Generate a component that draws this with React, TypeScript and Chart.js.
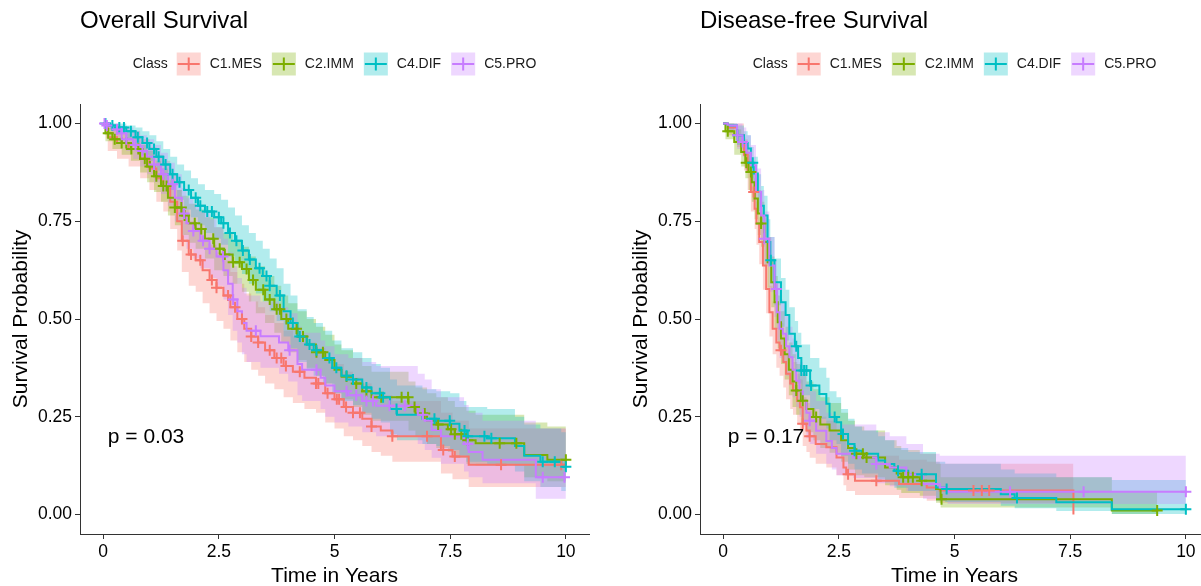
import React, { useEffect, useRef } from "react";
import { Chart, registerables } from "chart.js";

Chart.register(...registerables);

const FONT = '"Liberation Sans", Arial, Helvetica, sans-serif';

// ---------- shared labels ----------
const classNames = ["C1.MES", "C2.IMM", "C4.DIF", "C5.PRO"];
const classColors = ["#F8766D", "#7CAE00", "#00BFC4", "#C77CFF"];
const bandColors = [
  "rgba(248,118,109,0.3)",
  "rgba(124,174,0,0.3)",
  "rgba(0,191,196,0.3)",
  "rgba(199,124,255,0.3)",
];
const xTicks = [0, 2.5, 5, 7.5, 10];
const xTickLabels = ["0", "2.5", "5", "7.5", "10"];
const yTicks = [0, 0.25, 0.5, 0.75, 1];
const yTickLabels = ["0.00", "0.25", "0.50", "0.75", "1.00"];

// ---------- Overall Survival ----------
const osMesTime = [0, 0.1, 0.3, 0.55, 0.8, 1.0, 1.15, 1.3, 1.45, 1.6, 1.7, 1.85, 2.0, 2.15, 2.3, 2.45, 2.6, 2.75, 2.9, 3.05, 3.2, 3.35, 3.5, 3.7, 3.9, 4.1, 4.35, 4.6, 4.8, 5.0, 5.2, 5.4, 5.6, 5.8, 6.0, 6.25, 7.3, 7.55, 7.9];
const osMesSurv = [1, 0.965, 0.95, 0.935, 0.91, 0.885, 0.86, 0.84, 0.8, 0.75, 0.7, 0.665, 0.65, 0.625, 0.6, 0.58, 0.56, 0.53, 0.5, 0.475, 0.455, 0.44, 0.42, 0.4, 0.38, 0.365, 0.35, 0.335, 0.31, 0.295, 0.275, 0.26, 0.245, 0.225, 0.215, 0.2, 0.165, 0.148, 0.127];
const osMesLower = [1, 0.93, 0.91, 0.89, 0.86, 0.83, 0.8, 0.775, 0.73, 0.675, 0.62, 0.585, 0.57, 0.54, 0.515, 0.495, 0.475, 0.445, 0.415, 0.39, 0.37, 0.355, 0.335, 0.32, 0.3, 0.285, 0.27, 0.26, 0.235, 0.22, 0.2, 0.19, 0.175, 0.16, 0.15, 0.135, 0.105, 0.09, 0.07];
const osMesUpper = [1, 0.995, 0.99, 0.98, 0.96, 0.94, 0.92, 0.905, 0.87, 0.83, 0.78, 0.75, 0.735, 0.71, 0.69, 0.67, 0.65, 0.62, 0.59, 0.565, 0.545, 0.53, 0.51, 0.49, 0.47, 0.455, 0.44, 0.425, 0.4, 0.385, 0.365, 0.35, 0.335, 0.315, 0.305, 0.29, 0.26, 0.24, 0.22];
const osMesCensor = [1.72, 1.9, 2.1, 2.35, 2.45, 2.7, 2.85, 3.0, 3.2, 3.35, 3.6, 3.75, 3.85, 3.95, 4.25, 4.6, 4.65, 4.85, 5.05, 5.1, 5.25, 5.4, 5.55, 5.8, 6.25, 7.0, 7.35, 7.6, 8.6, 9.9];
const osMesEnd = 10;

const osImmTime = [0, 0.05, 0.2, 0.4, 0.6, 0.8, 0.95, 1.1, 1.25, 1.4, 1.55, 1.7, 1.85, 2.0, 2.2, 2.4, 2.6, 2.8, 3.0, 3.15, 3.3, 3.5, 3.7, 3.85, 4.0, 4.2, 4.4, 4.6, 4.8, 5.0, 5.15, 5.4, 5.6, 5.8, 6.6, 6.75, 7.0, 7.2, 7.45, 7.6, 7.85, 8.05, 9.1, 9.6];
const osImmSurv = [1, 0.975, 0.96, 0.95, 0.935, 0.91, 0.89, 0.865, 0.84, 0.81, 0.785, 0.765, 0.745, 0.73, 0.705, 0.68, 0.665, 0.645, 0.628, 0.6, 0.575, 0.55, 0.525, 0.5, 0.475, 0.455, 0.435, 0.415, 0.395, 0.37, 0.353, 0.335, 0.315, 0.3, 0.275, 0.258, 0.24, 0.23, 0.218, 0.205, 0.19, 0.182, 0.152, 0.14];
const osImmLower = [1, 0.955, 0.935, 0.92, 0.905, 0.875, 0.85, 0.825, 0.8, 0.765, 0.74, 0.715, 0.695, 0.68, 0.655, 0.625, 0.61, 0.59, 0.57, 0.545, 0.515, 0.49, 0.465, 0.44, 0.415, 0.395, 0.375, 0.355, 0.335, 0.31, 0.295, 0.275, 0.255, 0.24, 0.215, 0.2, 0.18, 0.17, 0.16, 0.145, 0.13, 0.125, 0.095, 0.085];
const osImmUpper = [1, 0.99, 0.985, 0.975, 0.965, 0.945, 0.93, 0.905, 0.885, 0.855, 0.83, 0.815, 0.795, 0.78, 0.76, 0.735, 0.72, 0.7, 0.685, 0.66, 0.635, 0.61, 0.585, 0.56, 0.54, 0.52, 0.5, 0.48, 0.46, 0.435, 0.42, 0.4, 0.38, 0.365, 0.34, 0.325, 0.31, 0.3, 0.29, 0.275, 0.265, 0.255, 0.235, 0.225];
const osImmCensor = [0.11, 0.25, 0.4, 0.5, 0.61, 0.76, 0.9, 1.01, 1.15, 1.3, 1.37, 1.55, 1.69, 1.76, 1.98, 2.12, 2.38, 2.52, 2.63, 2.81, 2.95, 3.1, 3.24, 3.46, 3.6, 3.75, 3.82, 3.96, 4.18, 4.32, 4.61, 4.75, 5.26, 5.47, 5.69, 6.01, 6.45, 6.59, 6.73, 6.95, 7.24, 7.52, 7.6, 7.74, 7.88, 8.57, 8.93, 10];
const osImmEnd = 10;

const osDifTime = [0, 0.15, 0.3, 0.5, 0.7, 0.85, 1.0, 1.15, 1.3, 1.45, 1.6, 1.75, 1.9, 2.05, 2.2, 2.4, 2.55, 2.7, 2.85, 3.0, 3.15, 3.3, 3.45, 3.6, 3.75, 3.9, 4.05, 4.2, 4.4, 4.55, 4.75, 4.95, 5.15, 5.4, 5.6, 5.8, 6.0, 6.2, 6.35, 6.9, 7.2, 7.5, 7.7, 7.85, 8.3, 8.9, 9.1, 9.45, 9.9];
const osDifSurv = [1, 0.995, 0.99, 0.98, 0.965, 0.95, 0.935, 0.915, 0.895, 0.87, 0.85, 0.83, 0.81, 0.79, 0.775, 0.76, 0.745, 0.72, 0.7, 0.675, 0.652, 0.63, 0.61, 0.585, 0.56, 0.52, 0.49, 0.455, 0.435, 0.42, 0.4, 0.375, 0.355, 0.345, 0.325, 0.31, 0.3, 0.27, 0.255, 0.245, 0.24, 0.232, 0.215, 0.2, 0.195, 0.175, 0.15, 0.135, 0.122];
const osDifLower = [1, 0.985, 0.975, 0.96, 0.94, 0.92, 0.905, 0.88, 0.855, 0.83, 0.805, 0.78, 0.76, 0.74, 0.72, 0.705, 0.69, 0.66, 0.64, 0.615, 0.59, 0.565, 0.545, 0.52, 0.495, 0.455, 0.425, 0.39, 0.37, 0.355, 0.335, 0.31, 0.29, 0.28, 0.26, 0.245, 0.235, 0.205, 0.19, 0.18, 0.175, 0.165, 0.15, 0.135, 0.13, 0.11, 0.085, 0.07, 0.06];
const osDifUpper = [1, 1, 1, 0.995, 0.99, 0.98, 0.97, 0.955, 0.935, 0.915, 0.895, 0.88, 0.86, 0.845, 0.83, 0.82, 0.805, 0.785, 0.765, 0.74, 0.72, 0.7, 0.68, 0.655, 0.63, 0.59, 0.56, 0.525, 0.505, 0.49, 0.47, 0.445, 0.425, 0.415, 0.4, 0.385, 0.375, 0.345, 0.33, 0.32, 0.315, 0.31, 0.29, 0.275, 0.27, 0.25, 0.23, 0.22, 0.21];
const osDifCensor = [0.05, 0.2, 0.35, 0.45, 0.6, 0.75, 0.95, 1.1, 1.2, 1.35, 1.5, 1.65, 1.85, 2.0, 2.1, 2.25, 2.35, 2.5, 2.6, 2.74, 2.88, 3.02, 3.17, 3.38, 3.53, 3.6, 3.82, 4.1, 4.25, 4.46, 4.61, 4.89, 5.04, 5.26, 5.4, 5.69, 5.98, 6.05, 6.34, 7.16, 7.49, 7.81, 7.88, 8.24, 8.39, 9.5, 9.76, 10];
const osDifEnd = 10;

const osProTime = [0, 0.05, 0.2, 0.35, 0.5, 0.65, 0.8, 0.95, 1.1, 1.25, 1.4, 1.55, 1.7, 1.8, 1.95, 2.1, 2.3, 2.45, 2.6, 2.7, 2.8, 2.9, 3.0, 3.1, 3.4, 3.8, 4.0, 4.2, 4.3, 4.7, 4.8, 5.0, 5.3, 5.6, 5.9, 6.8, 6.95, 7.1, 7.3, 7.8, 7.9, 8.2, 9.35];
const osProSurv = [1, 0.995, 0.985, 0.975, 0.96, 0.945, 0.93, 0.915, 0.895, 0.87, 0.845, 0.81, 0.77, 0.745, 0.725, 0.7, 0.68, 0.66, 0.625, 0.59, 0.55, 0.52, 0.49, 0.47, 0.456, 0.44, 0.42, 0.385, 0.37, 0.35, 0.33, 0.315, 0.305, 0.29, 0.278, 0.255, 0.24, 0.216, 0.2, 0.18, 0.16, 0.14, 0.095];
const osProLower = [1, 0.985, 0.965, 0.95, 0.93, 0.91, 0.89, 0.87, 0.85, 0.82, 0.79, 0.75, 0.705, 0.68, 0.655, 0.63, 0.605, 0.585, 0.55, 0.51, 0.47, 0.44, 0.41, 0.39, 0.375, 0.36, 0.34, 0.305, 0.29, 0.27, 0.25, 0.235, 0.225, 0.21, 0.2, 0.18, 0.165, 0.145, 0.13, 0.11, 0.095, 0.08, 0.04];
const osProUpper = [1, 1, 1, 0.995, 0.99, 0.98, 0.97, 0.96, 0.945, 0.925, 0.9, 0.87, 0.835, 0.81, 0.795, 0.775, 0.755, 0.735, 0.705, 0.67, 0.635, 0.605, 0.58, 0.56, 0.545, 0.53, 0.515, 0.48, 0.465, 0.445, 0.43, 0.41, 0.4, 0.39, 0.38, 0.36, 0.345, 0.32, 0.3, 0.28, 0.26, 0.24, 0.22];
const osProCensor = [0.03, 0.08, 0.3, 0.4, 0.5, 0.7, 0.85, 1.1, 1.3, 1.5, 1.75, 1.95, 2.16, 2.3, 2.59, 2.81, 3.3, 4.03, 4.61, 5.26, 5.47, 5.69, 5.83, 6.19, 6.52, 6.91, 7.88, 9.5, 9.97];
const osProEnd = 10;

// ---------- Disease-free Survival ----------
const dfsMesTime = [0, 0.1, 0.3, 0.45, 0.53, 0.6, 0.68, 0.72, 0.78, 0.86, 0.93, 1.0, 1.07, 1.15, 1.22, 1.3, 1.36, 1.45, 1.51, 1.6, 1.66, 1.72, 1.8, 1.87, 2.0, 2.23, 2.45, 2.6, 2.66, 2.85, 3.8, 4.4, 4.68, 7.57];
const dfsMesSurv = [1, 0.99, 0.97, 0.92, 0.876, 0.825, 0.782, 0.744, 0.697, 0.637, 0.577, 0.517, 0.475, 0.44, 0.42, 0.39, 0.36, 0.335, 0.317, 0.29, 0.274, 0.232, 0.215, 0.2, 0.18, 0.172, 0.146, 0.12, 0.103, 0.086, 0.078, 0.069, 0.061, 0];
const dfsMesLower = [1, 0.97, 0.94, 0.88, 0.83, 0.775, 0.73, 0.69, 0.64, 0.575, 0.515, 0.455, 0.41, 0.375, 0.355, 0.325, 0.295, 0.27, 0.255, 0.23, 0.215, 0.175, 0.16, 0.145, 0.13, 0.12, 0.1, 0.075, 0.06, 0.05, 0.042, 0.035, 0.03, 0];
const dfsMesUpper = [1, 1, 1, 0.96, 0.925, 0.88, 0.84, 0.8, 0.76, 0.7, 0.645, 0.585, 0.545, 0.51, 0.49, 0.46, 0.43, 0.405, 0.39, 0.36, 0.345, 0.3, 0.285, 0.27, 0.25, 0.24, 0.215, 0.19, 0.17, 0.15, 0.14, 0.135, 0.13, 0];
const dfsMesCensor = [0.66, 1.25, 1.72, 1.87, 2.7, 3.31, 5.41, 5.59, 5.75];
const dfsMesEnd = 7.57;

const dfsImmTime = [0, 0.05, 0.24, 0.39, 0.48, 0.55, 0.62, 0.68, 0.75, 0.82, 0.89, 0.96, 1.04, 1.11, 1.18, 1.25, 1.33, 1.42, 1.5, 1.58, 1.68, 1.8, 1.95, 2.1, 2.3, 2.55, 2.7, 2.85, 3.05, 3.5, 3.75, 3.85, 4.25, 4.6, 4.7, 8.4];
const dfsImmSurv = [1, 0.98, 0.953, 0.927, 0.9, 0.876, 0.85, 0.808, 0.77, 0.744, 0.697, 0.645, 0.594, 0.543, 0.492, 0.45, 0.41, 0.37, 0.34, 0.317, 0.291, 0.27, 0.249, 0.23, 0.215, 0.19, 0.17, 0.155, 0.146, 0.12, 0.105, 0.095, 0.086, 0.065, 0.039, 0.01];
const dfsImmLower = [1, 0.96, 0.92, 0.89, 0.86, 0.83, 0.8, 0.755, 0.715, 0.685, 0.635, 0.58, 0.53, 0.475, 0.425, 0.385, 0.345, 0.305, 0.275, 0.255, 0.23, 0.21, 0.19, 0.17, 0.158, 0.135, 0.115, 0.1, 0.095, 0.075, 0.063, 0.055, 0.048, 0.03, 0.018, 0.001];
const dfsImmUpper = [1, 1, 0.985, 0.965, 0.945, 0.92, 0.9, 0.86, 0.83, 0.8, 0.76, 0.71, 0.66, 0.61, 0.56, 0.52, 0.48, 0.44, 0.41, 0.385, 0.36, 0.34, 0.32, 0.3, 0.285, 0.26, 0.24, 0.225, 0.215, 0.19, 0.175, 0.165, 0.155, 0.13, 0.095, 0.06];
const dfsImmCensor = [0.1, 0.5, 0.6, 0.82, 1.58, 1.72, 2.01, 2.88, 3.02, 3.1, 3.89, 4.0, 4.1, 4.29, 4.72, 9.38];
const dfsImmEnd = 9.38;

const dfsDifTime = [0, 0.1, 0.3, 0.45, 0.53, 0.6, 0.66, 0.75, 0.82, 0.88, 0.96, 1.02, 1.11, 1.25, 1.35, 1.43, 1.55, 1.62, 1.69, 1.88, 2.08, 2.23, 2.3, 2.45, 2.55, 2.7, 2.84, 3.0, 3.35, 3.5, 3.7, 4.0, 4.6, 4.8, 6.0, 6.3, 7.2, 8.4];
const dfsDifSurv = [1, 0.995, 0.97, 0.95, 0.936, 0.9, 0.872, 0.825, 0.79, 0.765, 0.697, 0.65, 0.594, 0.543, 0.51, 0.462, 0.43, 0.4, 0.368, 0.33, 0.308, 0.283, 0.249, 0.236, 0.206, 0.18, 0.163, 0.155, 0.138, 0.129, 0.112, 0.103, 0.069, 0.065, 0.052, 0.042, 0.031, 0.013];
const dfsDifLower = [1, 0.985, 0.945, 0.92, 0.9, 0.86, 0.83, 0.775, 0.74, 0.71, 0.64, 0.59, 0.535, 0.48, 0.445, 0.4, 0.365, 0.335, 0.305, 0.27, 0.245, 0.22, 0.19, 0.18, 0.15, 0.13, 0.115, 0.105, 0.09, 0.083, 0.068, 0.06, 0.035, 0.032, 0.022, 0.016, 0.009, 0.001];
const dfsDifUpper = [1, 1, 0.995, 0.98, 0.97, 0.94, 0.915, 0.87, 0.84, 0.815, 0.755, 0.71, 0.655, 0.605, 0.575, 0.53, 0.495, 0.465, 0.435, 0.4, 0.375, 0.35, 0.315, 0.3, 0.27, 0.245, 0.225, 0.215, 0.2, 0.19, 0.17, 0.16, 0.135, 0.13, 0.115, 0.105, 0.095, 0.088];
const dfsDifCensor = [0.31, 0.64, 1.03, 1.58, 1.69, 1.75, 1.8, 1.9, 2.41, 2.59, 2.84, 3.78, 4.29, 4.83, 6.35, 10];
const dfsDifEnd = 10;

const dfsProTime = [0, 0.1, 0.3, 0.42, 0.5, 0.6, 0.71, 0.82, 0.89, 1.0, 1.11, 1.16, 1.22, 1.29, 1.36, 1.43, 1.5, 1.58, 1.65, 1.72, 1.8, 1.87, 2.01, 2.23, 2.35, 2.45, 2.81, 3.31, 3.6, 3.96, 4.32, 4.68, 4.85];
const dfsProSurv = [1, 0.995, 0.97, 0.953, 0.925, 0.893, 0.825, 0.765, 0.705, 0.637, 0.577, 0.517, 0.475, 0.462, 0.43, 0.402, 0.37, 0.342, 0.315, 0.291, 0.26, 0.24, 0.214, 0.188, 0.17, 0.155, 0.146, 0.129, 0.12, 0.103, 0.078, 0.069, 0.058];
const dfsProLower = [1, 0.98, 0.935, 0.915, 0.88, 0.845, 0.77, 0.705, 0.64, 0.57, 0.505, 0.445, 0.4, 0.39, 0.355, 0.33, 0.3, 0.275, 0.25, 0.225, 0.195, 0.18, 0.155, 0.13, 0.115, 0.1, 0.093, 0.08, 0.072, 0.06, 0.04, 0.034, 0.027];
const dfsProUpper = [1, 1, 1, 0.99, 0.97, 0.945, 0.885, 0.83, 0.775, 0.71, 0.65, 0.595, 0.55, 0.54, 0.51, 0.48, 0.45, 0.42, 0.39, 0.365, 0.335, 0.315, 0.29, 0.26, 0.245, 0.23, 0.23, 0.21, 0.2, 0.18, 0.155, 0.15, 0.15];
const dfsProCensor = [0.31, 0.42, 0.89, 1.15, 1.87, 3.31, 6.2, 7.79, 10];
const dfsProEnd = 10;

// ---------- helpers ----------
type Group = {
  time: number[];
  surv: number[];
  lower: number[];
  upper: number[];
  censor: number[];
  end: number;
};

const osGroups: Group[] = [
  { time: osMesTime, surv: osMesSurv, lower: osMesLower, upper: osMesUpper, censor: osMesCensor, end: osMesEnd },
  { time: osImmTime, surv: osImmSurv, lower: osImmLower, upper: osImmUpper, censor: osImmCensor, end: osImmEnd },
  { time: osDifTime, surv: osDifSurv, lower: osDifLower, upper: osDifUpper, censor: osDifCensor, end: osDifEnd },
  { time: osProTime, surv: osProSurv, lower: osProLower, upper: osProUpper, censor: osProCensor, end: osProEnd },
];
const dfsGroups: Group[] = [
  { time: dfsMesTime, surv: dfsMesSurv, lower: dfsMesLower, upper: dfsMesUpper, censor: dfsMesCensor, end: dfsMesEnd },
  { time: dfsImmTime, surv: dfsImmSurv, lower: dfsImmLower, upper: dfsImmUpper, censor: dfsImmCensor, end: dfsImmEnd },
  { time: dfsDifTime, surv: dfsDifSurv, lower: dfsDifLower, upper: dfsDifUpper, censor: dfsDifCensor, end: dfsDifEnd },
  { time: dfsProTime, surv: dfsProSurv, lower: dfsProLower, upper: dfsProUpper, censor: dfsProCensor, end: dfsProEnd },
];

function stepData(time: number[], vals: number[], end: number) {
  const pts = time.map((t, i) => ({ x: t, y: vals[i] }));
  if (end > time[time.length - 1]) pts.push({ x: end, y: vals[vals.length - 1] });
  return pts;
}

function survAt(time: number[], surv: number[], t: number) {
  let v = surv[0];
  for (let i = 0; i < time.length; i++) {
    if (time[i] <= t) v = surv[i];
  }
  return v;
}

function buildDatasets(groups: Group[]) {
  const ds: any[] = [];
  groups.forEach((g, i) => {
    ds.push({
      data: stepData(g.time, g.upper, g.end),
      stepped: true,
      borderWidth: 0,
      borderColor: "rgba(0,0,0,0)",
      pointRadius: 0,
      fill: "+1",
      backgroundColor: bandColors[i],
      order: 20 - i,
    });
    ds.push({
      data: stepData(g.time, g.lower, g.end),
      stepped: true,
      borderWidth: 0,
      borderColor: "rgba(0,0,0,0)",
      pointRadius: 0,
      fill: false,
      order: 20 - i,
    });
  });
  groups.forEach((g, i) => {
    ds.push({
      data: stepData(g.time, g.surv, g.end),
      stepped: true,
      borderColor: classColors[i],
      borderWidth: 2,
      pointRadius: 0,
      fill: false,
      order: 10 - i,
    });
  });
  groups.forEach((g, i) => {
    ds.push({
      data: g.censor.map((t) => ({ x: t, y: survAt(g.time, g.surv, t) })),
      showLine: false,
      pointStyle: "cross",
      pointRadius: 5.5,
      pointBorderWidth: 2,
      pointBorderColor: classColors[i],
      borderColor: classColors[i],
      backgroundColor: classColors[i],
      fill: false,
      order: 5 - i,
    });
  });
  return ds;
}

function textPlugin(title: string, pval: string) {
  return {
    id: "panelText",
    afterDraw(chart: any) {
      const ctx = chart.ctx as CanvasRenderingContext2D;
      const area = chart.chartArea;
      const xs = chart.scales.x;
      const ys = chart.scales.y;
      const cx = (area.left + area.right) / 2;
      ctx.save();
      ctx.fillStyle = "#000";

      // title
      ctx.font = `24px ${FONT}`;
      ctx.textAlign = "left";
      ctx.textBaseline = "alphabetic";
      ctx.fillText(title, area.left, 28);

      // legend
      ctx.font = `14px ${FONT}`;
      ctx.textBaseline = "middle";
      const cy = 64;
      const keyW = 24;
      const keyH = 23;
      const gapTitle = 9;
      const gapKey = 9;
      const gapItem = 10;
      let total = ctx.measureText("Class").width + gapTitle;
      classNames.forEach((n, i) => {
        total += keyW + gapKey + ctx.measureText(n).width + (i < classNames.length - 1 ? gapItem : 0);
      });
      let x = cx - total / 2;
      ctx.fillStyle = "#1a1a1a";
      ctx.fillText("Class", x, cy);
      x += ctx.measureText("Class").width + gapTitle;
      classNames.forEach((n, i) => {
        ctx.fillStyle = bandColors[i];
        ctx.fillRect(x, cy - keyH / 2, keyW, keyH);
        ctx.strokeStyle = classColors[i];
        ctx.lineWidth = 2;
        ctx.beginPath();
        ctx.moveTo(x + 1, cy);
        ctx.lineTo(x + keyW - 1, cy);
        ctx.moveTo(x + keyW / 2, cy - 6.5);
        ctx.lineTo(x + keyW / 2, cy + 6.5);
        ctx.stroke();
        x += keyW + gapKey;
        ctx.fillStyle = "#1a1a1a";
        ctx.fillText(n, x, cy);
        x += ctx.measureText(n).width + gapItem;
      });

      // axis titles
      ctx.fillStyle = "#000";
      ctx.font = `21px ${FONT}`;
      ctx.textAlign = "center";
      ctx.textBaseline = "alphabetic";
      ctx.fillText("Time in Years", cx, 582);
      ctx.save();
      ctx.translate(21, (area.top + area.bottom) / 2);
      ctx.rotate(-Math.PI / 2);
      ctx.textBaseline = "middle";
      ctx.fillText("Survival Probability", 0, 0);
      ctx.restore();

      // p-value
      ctx.font = `21px ${FONT}`;
      ctx.textAlign = "left";
      ctx.textBaseline = "middle";
      ctx.fillText(pval, xs.getPixelForValue(0.1), ys.getPixelForValue(0.2) + 1);
      ctx.restore();
    },
  };
}

function makeConfig(groups: Group[], title: string, pval: string): any {
  const axisCommon = {
    grid: {
      display: true,
      drawOnChartArea: false,
      drawTicks: true,
      tickLength: 5,
      tickColor: "#333333",
      tickWidth: 1,
    },
    border: { display: true, color: "#333333", width: 1 },
  };
  return {
    type: "line",
    data: { datasets: buildDatasets(groups) },
    options: {
      responsive: false,
      maintainAspectRatio: false,
      animation: false,
      devicePixelRatio: 1,
      events: [],
      layout: { padding: { top: 104, right: 11, bottom: 0, left: 0 } },
      plugins: {
        legend: { display: false },
        title: { display: false },
        tooltip: { enabled: false },
      },
      scales: {
        x: {
          type: "linear",
          min: -0.5,
          max: 10.5,
          afterBuildTicks: (s: any) => {
            s.ticks = xTicks.map((v) => ({ value: v }));
          },
          afterFit: (s: any) => {
            s.height = 52;
          },
          ticks: {
            autoSkip: false,
            maxRotation: 0,
            padding: 3,
            color: "#000",
            font: { family: FONT, size: 17.5 },
            callback: (v: number) => xTickLabels[xTicks.indexOf(v)],
          },
          ...axisCommon,
        },
        y: {
          type: "linear",
          min: -0.05,
          max: 1.05,
          afterBuildTicks: (s: any) => {
            s.ticks = yTicks.map((v) => ({ value: v }));
          },
          afterFit: (s: any) => {
            s.width = 80;
          },
          ticks: {
            autoSkip: false,
            padding: 3,
            color: "#000",
            font: { family: FONT, size: 17.5 },
            callback: (v: number) => yTickLabels[yTicks.indexOf(v)],
          },
          ...axisCommon,
        },
      },
    },
    plugins: [textPlugin(title, pval)],
  };
}

function Panel(props: { groups: Group[]; title: string; pval: string; left: number }) {
  const ref = useRef<HTMLCanvasElement | null>(null);
  useEffect(() => {
    if (!ref.current) return;
    const chart = new Chart(ref.current, makeConfig(props.groups, props.title, props.pval));
    return () => chart.destroy();
  }, []);
  return (
    <canvas
      ref={ref}
      width={600}
      height={586}
      style={{ position: "absolute", left: props.left, top: 0, width: 600, height: 586 }}
    />
  );
}

export default function App() {
  return (
    <div
      style={{
        position: "fixed",
        left: 0,
        top: 0,
        width: 1201,
        height: 586,
        overflow: "hidden",
        background: "#ffffff",
      }}
    >
      <Panel groups={osGroups} title="Overall Survival" pval="p = 0.03" left={0} />
      <Panel groups={dfsGroups} title="Disease-free Survival" pval="p = 0.17" left={620} />
    </div>
  );
}
